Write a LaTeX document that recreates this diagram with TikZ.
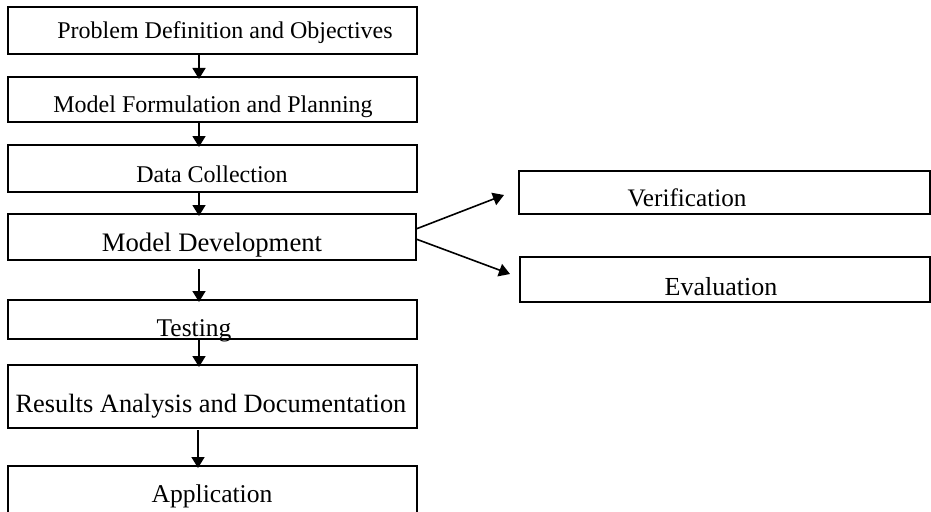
\documentclass[tikz,border=0pt]{standalone}
\usepackage{fontspec}
\setmainfont{Liberation Serif}
\usetikzlibrary{arrows.meta}
\begin{document}
\begin{tikzpicture}[x=1pt,y=-1pt,
  boxstyle/.style={draw=black,line width=1.7pt,inner sep=0pt},
  lblstyle/.style={anchor=base,inner sep=0pt},
  arr/.style={line width=1.6pt,-{Triangle[width=13pt,length=11pt]}}]
\useasboundingbox (0,0) rectangle (931,511);
\begin{scope}
\clip (0,0) rectangle (931,511);
% boxes
\node[boxstyle,minimum width=409pt,minimum height=47pt] (b1) at (212.5,30.5) {};
\node[boxstyle,minimum width=409pt,minimum height=45pt] (b2) at (212.5,99.5) {};
\node[boxstyle,minimum width=409pt,minimum height=47pt] (b3) at (212.5,168.5) {};
\node[boxstyle,minimum width=408pt,minimum height=46pt] (b4) at (212,237) {};
\node[boxstyle,minimum width=409pt,minimum height=39pt] (b5) at (212.5,319.5) {};
\node[boxstyle,minimum width=409pt,minimum height=63pt] (b6) at (212.5,396.5) {};
\node[boxstyle,minimum width=409pt,minimum height=60pt] (b7) at (212.5,496) {};
\node[boxstyle,minimum width=411pt,minimum height=43pt] (bv) at (724.5,192.5) {};
\node[boxstyle,minimum width=410pt,minimum height=45pt] (be) at (725,279.5) {};
% labels
\node[lblstyle,font=\fontsize{24}{28}\selectfont] (t1) at (225,38) {Problem Definition and Objectives};
\node[lblstyle,font=\fontsize{24}{28}\selectfont] (t2) at (213,112) {Model Formulation and Planning};
\node[lblstyle,font=\fontsize{24}{28}\selectfont] (t3) at (212,182) {Data Collection};
\node[lblstyle,font=\fontsize{26.7}{30}\selectfont] (t4) at (212,251) {Model Development};
\node[lblstyle,font=\fontsize{25.5}{30}\selectfont] (t5) at (194,336) {Testing};
\node[lblstyle,font=\fontsize{26.4}{30}\selectfont] (t6) at (211,412) {Results Analysis and Documentation};
\node[lblstyle,font=\fontsize{25.6}{30}\selectfont] (t7) at (212,502) {Application};
\node[lblstyle,font=\fontsize{25.2}{30}\selectfont] (tv) at (687,206) {Verification};
\node[lblstyle,font=\fontsize{26}{30}\selectfont] (te) at (721,295) {Evaluation};
% connectors
\coordinate (a1s) at (199,54);
\coordinate (a1e) at (199,79);
\coordinate (a2s) at (199,122);
\coordinate (a2e) at (199,147);
\coordinate (a3s) at (199,192);
\coordinate (a3e) at (199,216);
\coordinate (a4s) at (199,269);
\coordinate (a4e) at (199,302);
\coordinate (a5s) at (199,339);
\coordinate (a5e) at (199,367);
\coordinate (a6s) at (198,430);
\coordinate (a6e) at (198,468);
\coordinate (avs) at (416,229);
\coordinate (ave) at (504,195);
\coordinate (aes) at (416,239);
\coordinate (aee) at (510,274);
\draw[arr] (a1s) -- (a1e);
\draw[arr] (a2s) -- (a2e);
\draw[arr] (a3s) -- (a3e);
\draw[arr] (a4s) -- (a4e);
\draw[arr] (a5s) -- (a5e);
\draw[arr] (a6s) -- (a6e);
\draw[arr] (avs) -- (ave);
\draw[arr] (aes) -- (aee);
\end{scope}
\end{tikzpicture}
\end{document}
